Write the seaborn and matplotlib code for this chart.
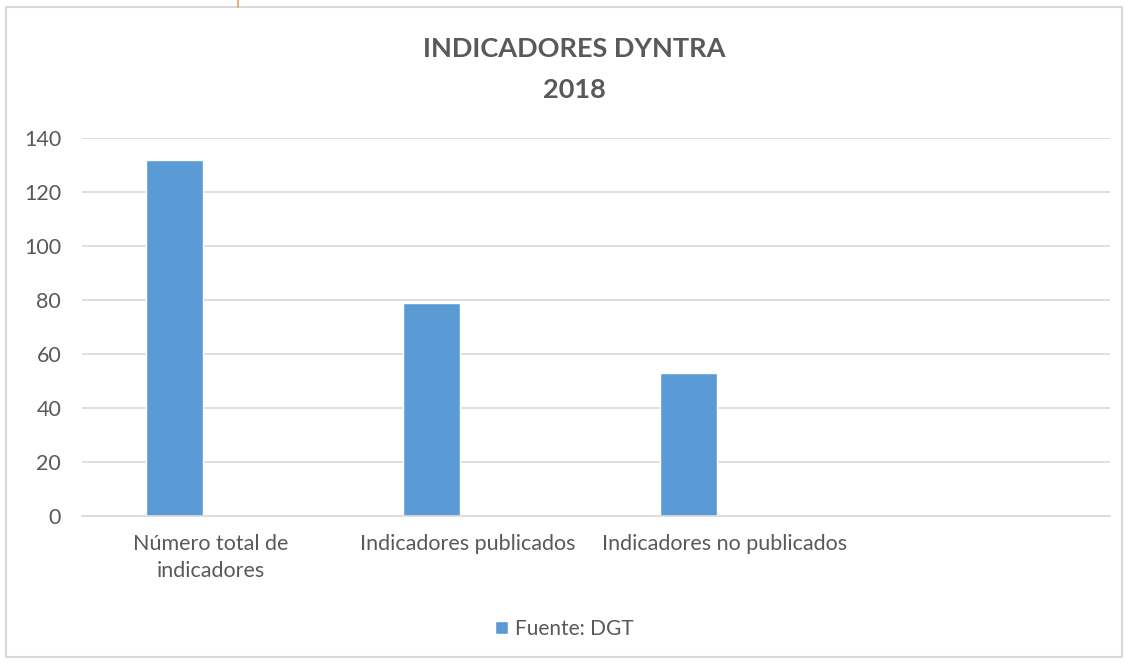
import pandas as pd
import seaborn as sns
import matplotlib.pyplot as plt
from matplotlib.lines import Line2D
from matplotlib.patches import Rectangle

# Datos del gráfico
categorias = ['Número total de\nindicadores', 'Indicadores publicados', 'Indicadores no publicados', '']
valores = [132, 79, 53, None]
serie = 'Fuente: DGT'

df = pd.DataFrame({'categoria': categorias, 'valor': valores, 'serie': serie})

sns.set_style('white')
plt.rcParams['font.family'] = ['Lato', 'DejaVu Sans']

gris = '#595959'
azul = '#5B9BD5'
rejilla = '#D9D9D9'

fig = plt.figure(figsize=(11.28, 6.64), dpi=100)
ax = fig.add_axes([0.0727, 0.2229, 0.9113, 0.5693])

sns.barplot(data=df, x='categoria', y='valor', hue='serie', palette=[azul],
            saturation=1, width=0.222, ax=ax, legend=True, order=categorias)

ax.set_ylim(0, 140)
ax.set_yticks(range(0, 141, 20))
ax.set_xlim(-0.36, 3.64)
ax.set_xticks([i + 0.14 for i in range(len(categorias))])
ax.set_xticklabels(categorias, linespacing=1.45)
ax.tick_params(axis='both', length=0, labelsize=15.5, colors=gris)
ax.tick_params(axis='x', pad=13)
ax.tick_params(axis='y', pad=15)
ax.set_xlabel('')
ax.set_ylabel('')
ax.grid(axis='y', color=rejilla, linewidth=1.2)
ax.set_axisbelow(True)
for s in ['top', 'right', 'left']:
    ax.spines[s].set_visible(False)
ax.spines['bottom'].set_color(rejilla)
ax.spines['bottom'].set_linewidth(1.2)

fig.text(0.509, 0.926, 'INDICADORES DYNTRA', ha='center', va='center',
         fontsize=19.5, fontweight='bold', color=gris)
fig.text(0.509, 0.865, '2018', ha='center', va='center',
         fontsize=19.5, fontweight='bold', color=gris)

leg = ax.legend(loc='center', bbox_to_anchor=(0.5, 0.053), bbox_transform=fig.transFigure,
                frameon=False, fontsize=15, handlelength=0.65, handleheight=0.65,
                handletextpad=0.3)
for t in leg.get_texts():
    t.set_color(gris)

# Marco del gráfico
fig.add_artist(Rectangle((6 / 1128, 7 / 664), 1116 / 1128, 650 / 664,
                         transform=fig.transFigure, fill=False,
                         edgecolor=rejilla, linewidth=1.5))
fig.add_artist(Line2D([238 / 1128, 238 / 1128], [1.0, 657 / 664],
                      transform=fig.transFigure, color='#E0A060', linewidth=1.2))

fig.savefig('out.png', dpi=100)
